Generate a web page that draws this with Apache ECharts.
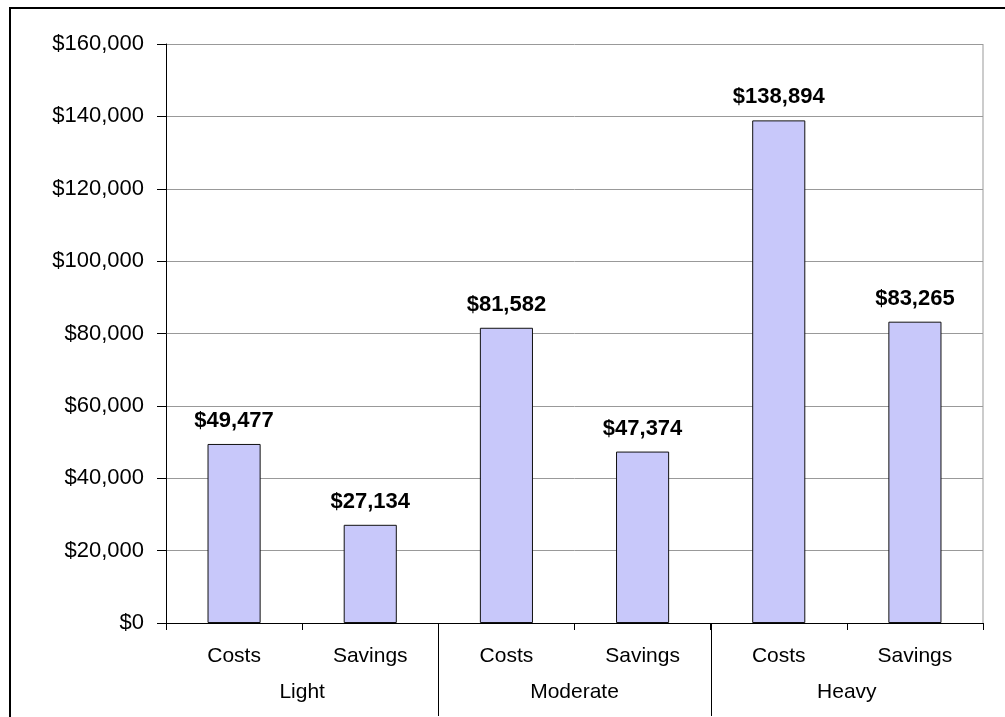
<!DOCTYPE html>
<html>
<head>
<meta charset="utf-8">
<script src="https://cdn.jsdelivr.net/npm/echarts@6/dist/echarts.min.js"></script>
<style>
  html, body { margin: 0; padding: 0; background: #fff; }
  #chart { width: 1005px; height: 717px; }
</style>
</head>
<body>
<div id="chart"></div>
<script>
// Usage levels and the two measures shown for each
const groups = ['Light', 'Moderate', 'Heavy'];
const measures = ['Costs', 'Savings'];
// One bar per (group, measure), in order
const categories = ['Costs', 'Savings', 'Costs', 'Savings', 'Costs', 'Savings'];
const amounts = [49477, 27134, 81582, 47374, 138894, 83265];
// Value axis scale
const yMin = 0;
const yMax = 160000;
const yStep = 20000;

const FONT = '"Liberation Sans", Arial, sans-serif';
const money = v => '$' + Number(v).toLocaleString('en-US');

const chart = echarts.init(document.getElementById('chart'), null, { renderer: 'canvas' });

const option = {
  backgroundColor: '#fff',
  animation: false,
  grid: { left: 166, right: 22, top: 44, bottom: 94, show: false },
  xAxis: [
    {
      type: 'category',
      data: categories,
      boundaryGap: true,
      axisLine: { show: true, lineStyle: { color: '#000', width: 1 } },
      axisTick: { show: true, alignWithLabel: false, length: 7, lineStyle: { color: '#000' } },
      axisLabel: { color: '#000', fontFamily: FONT, fontSize: 21, margin: 23 },
      splitLine: { show: false }
    },
    {
      type: 'category',
      data: groups,
      position: 'bottom',
      boundaryGap: true,
      axisLine: { show: false },
      axisTick: { show: false },
      axisLabel: { color: '#000', fontFamily: FONT, fontSize: 21, margin: 59 },
      splitLine: { show: false }
    }
  ],
  yAxis: {
    type: 'value',
    min: yMin,
    max: yMax,
    interval: yStep,
    axisLine: { show: true, lineStyle: { color: '#000', width: 1 } },
    axisTick: { show: true, inside: false, length: 9, lineStyle: { color: '#000' } },
    axisLabel: { color: '#000', fontFamily: FONT, fontSize: 22, margin: 22, formatter: money },
    splitLine: { show: true, lineStyle: { color: '#999', width: 1 } }
  },
  series: [
    {
      type: 'bar',
      xAxisIndex: 0,
      data: amounts,
      barWidth: '39%',
      itemStyle: { color: '#C8C8FA', borderColor: '#111', borderWidth: 1 },
      label: {
        show: true,
        position: 'top',
        distance: 12,
        color: '#000',
        fontFamily: FONT,
        fontSize: 22,
        fontWeight: 'bold',
        formatter: p => money(p.value)
      }
    }
  ]
};

chart.setOption(option);

// Frame, right plot edge and the long separators between usage groups
function drawDecorations() {
  const x0 = chart.convertToPixel({ xAxisIndex: 0 }, 0);
  const x1 = chart.convertToPixel({ xAxisIndex: 0 }, 1);
  const band = x1 - x0;
  const yTop = chart.convertToPixel({ yAxisIndex: 0 }, yMax);
  const yBase = chart.convertToPixel({ yAxisIndex: 0 }, yMin);
  const left = x0 - band / 2;
  const right = left + band * categories.length;
  const elements = [
    {
      type: 'rect',
      shape: { x: 10, y: 8, width: 1100, height: 800 },
      style: { fill: null, stroke: '#000', lineWidth: 2 },
      silent: true
    },
    {
      type: 'line',
      shape: { x1: right, y1: yTop, x2: right, y2: yBase },
      style: { stroke: '#999', lineWidth: 1 },
      silent: true
    }
  ];
  for (let g = 1; g < groups.length; g++) {
    const xs = Math.round(left + band * measures.length * g) + 0.5;
    elements.push({
      type: 'line',
      shape: { x1: xs, y1: yBase, x2: xs, y2: 716 },
      style: { stroke: '#000', lineWidth: 1 },
      silent: true
    });
  }
  chart.setOption({ graphic: { elements } });
}
drawDecorations();
</script>
</body>
</html>
